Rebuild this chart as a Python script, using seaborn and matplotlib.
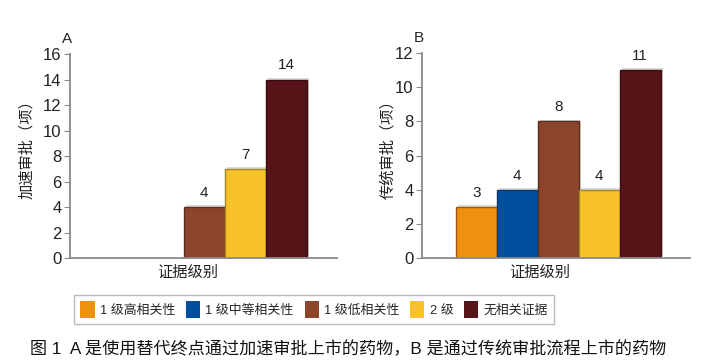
import matplotlib
matplotlib.use("Agg")
import matplotlib.pyplot as plt
import matplotlib.patheffects as pe
import matplotlib.patches as mpatches
import seaborn as sns
import pandas as pd

# data
categories = ["1 级高相关性", "1 级中等相关性", "1 级低相关性", "2 级", "无相关证据"]
colors = ["#F0900F", "#00509E", "#8B452A", "#F8C22A", "#561418"]
edges = ["#9A5A10", "#0A3A70", "#5A2E1C", "#A8841E", "#3A0C10"]
counts_a = [0, 0, 4, 7, 14]
counts_b = [3, 4, 8, 4, 11]
ylabel_a = "加速审批（项）"
ylabel_b = "传统审批（项）"
xlabel = "证据级别"
caption = "图 1  A 是使用替代终点通过加速审批上市的药物，B 是通过传统审批流程上市的药物"

sns.set_style("white")
plt.rcParams["font.family"] = ["Liberation Sans", "Noto Sans CJK SC", "DejaVu Sans"]

fig = plt.figure(figsize=(7.03, 3.63), dpi=100)
ax_a = fig.add_axes([0.0996, 0.289, 0.380, 0.562])
ax_b = fig.add_axes([0.600, 0.289, 0.381, 0.565])

palette = dict(zip(categories, colors))


def draw(ax, counts, ymax, ylabel, letter, xlim, ylab_x):
    df = pd.DataFrame({"cat": categories, "n": counts})
    sns.barplot(data=df, x="cat", y="n", hue="cat", order=categories,
                hue_order=categories, palette=palette, width=1.0, saturation=1,
                legend=False, ax=ax, linewidth=1.0)
    for patch, c, e, n in zip(ax.patches, colors, edges, counts):
        patch.set_edgecolor(e)
        patch.set_path_effects([pe.SimplePatchShadow(offset=(1.5, 1.2), shadow_rgbFace="#999999", alpha=0.35),
                                pe.Normal()])
        if n == 0:
            patch.set_visible(False)
        else:
            ax.text(patch.get_x() + patch.get_width() / 2, n + ymax * 0.035, str(n),
                    ha="center", va="bottom", fontsize=11, color="#222222")
    ax.set_ylim(0, ymax)
    ax.set_xlim(*xlim)
    ax.set_yticks(range(0, ymax + 1, 2))
    ax.set_xticks([])
    ax.set_xlabel(xlabel, fontsize=11, color="#222222")
    ax.xaxis.set_label_coords(0.44, -0.035, transform=ax.transAxes)
    ax.xaxis.label.set_va("top")
    ax.set_ylabel(ylabel, fontsize=11, color="#222222")
    ax.yaxis.set_label_coords(ylab_x, 0.55, transform=ax.transAxes)
    ax.yaxis.label.set_va("center")
    ax.tick_params(axis="y", direction="out", length=4, width=0.8, color="#888888",
                   labelsize=12, labelcolor="#222222", left=True, pad=2)
    for s in ["top", "right"]:
        ax.spines[s].set_visible(False)
    for s in ["left", "bottom"]:
        ax.spines[s].set_color("#8a8a8a")
        ax.spines[s].set_linewidth(1.3)
    ax.text(-0.01, 1.04, letter, transform=ax.transAxes, fontsize=11, ha="center", va="bottom")


draw(ax_a, counts_a, 16, ylabel_a, "A", (-1.26, 5.23), -0.161)
draw(ax_b, counts_b, 12, ylabel_b, "B", (-1.33, 5.21), -0.127)

handles = [mpatches.Patch(facecolor=c, edgecolor="none", label=l) for c, l in zip(colors, categories)]
fig.legend(handles=handles, loc="center", bbox_to_anchor=(0.447, 0.147), ncol=5,
           frameon=True, fancybox=False, edgecolor="#aaaaaa", fontsize=9.3,
           handlelength=1.1, handleheight=1.6, handletextpad=0.4, columnspacing=0.85,
           borderpad=0.5)

fig.text(0.043, 0.04, caption, fontsize=12.3, ha="left", va="center", color="#111111")

fig.savefig("out.png", dpi=100)
